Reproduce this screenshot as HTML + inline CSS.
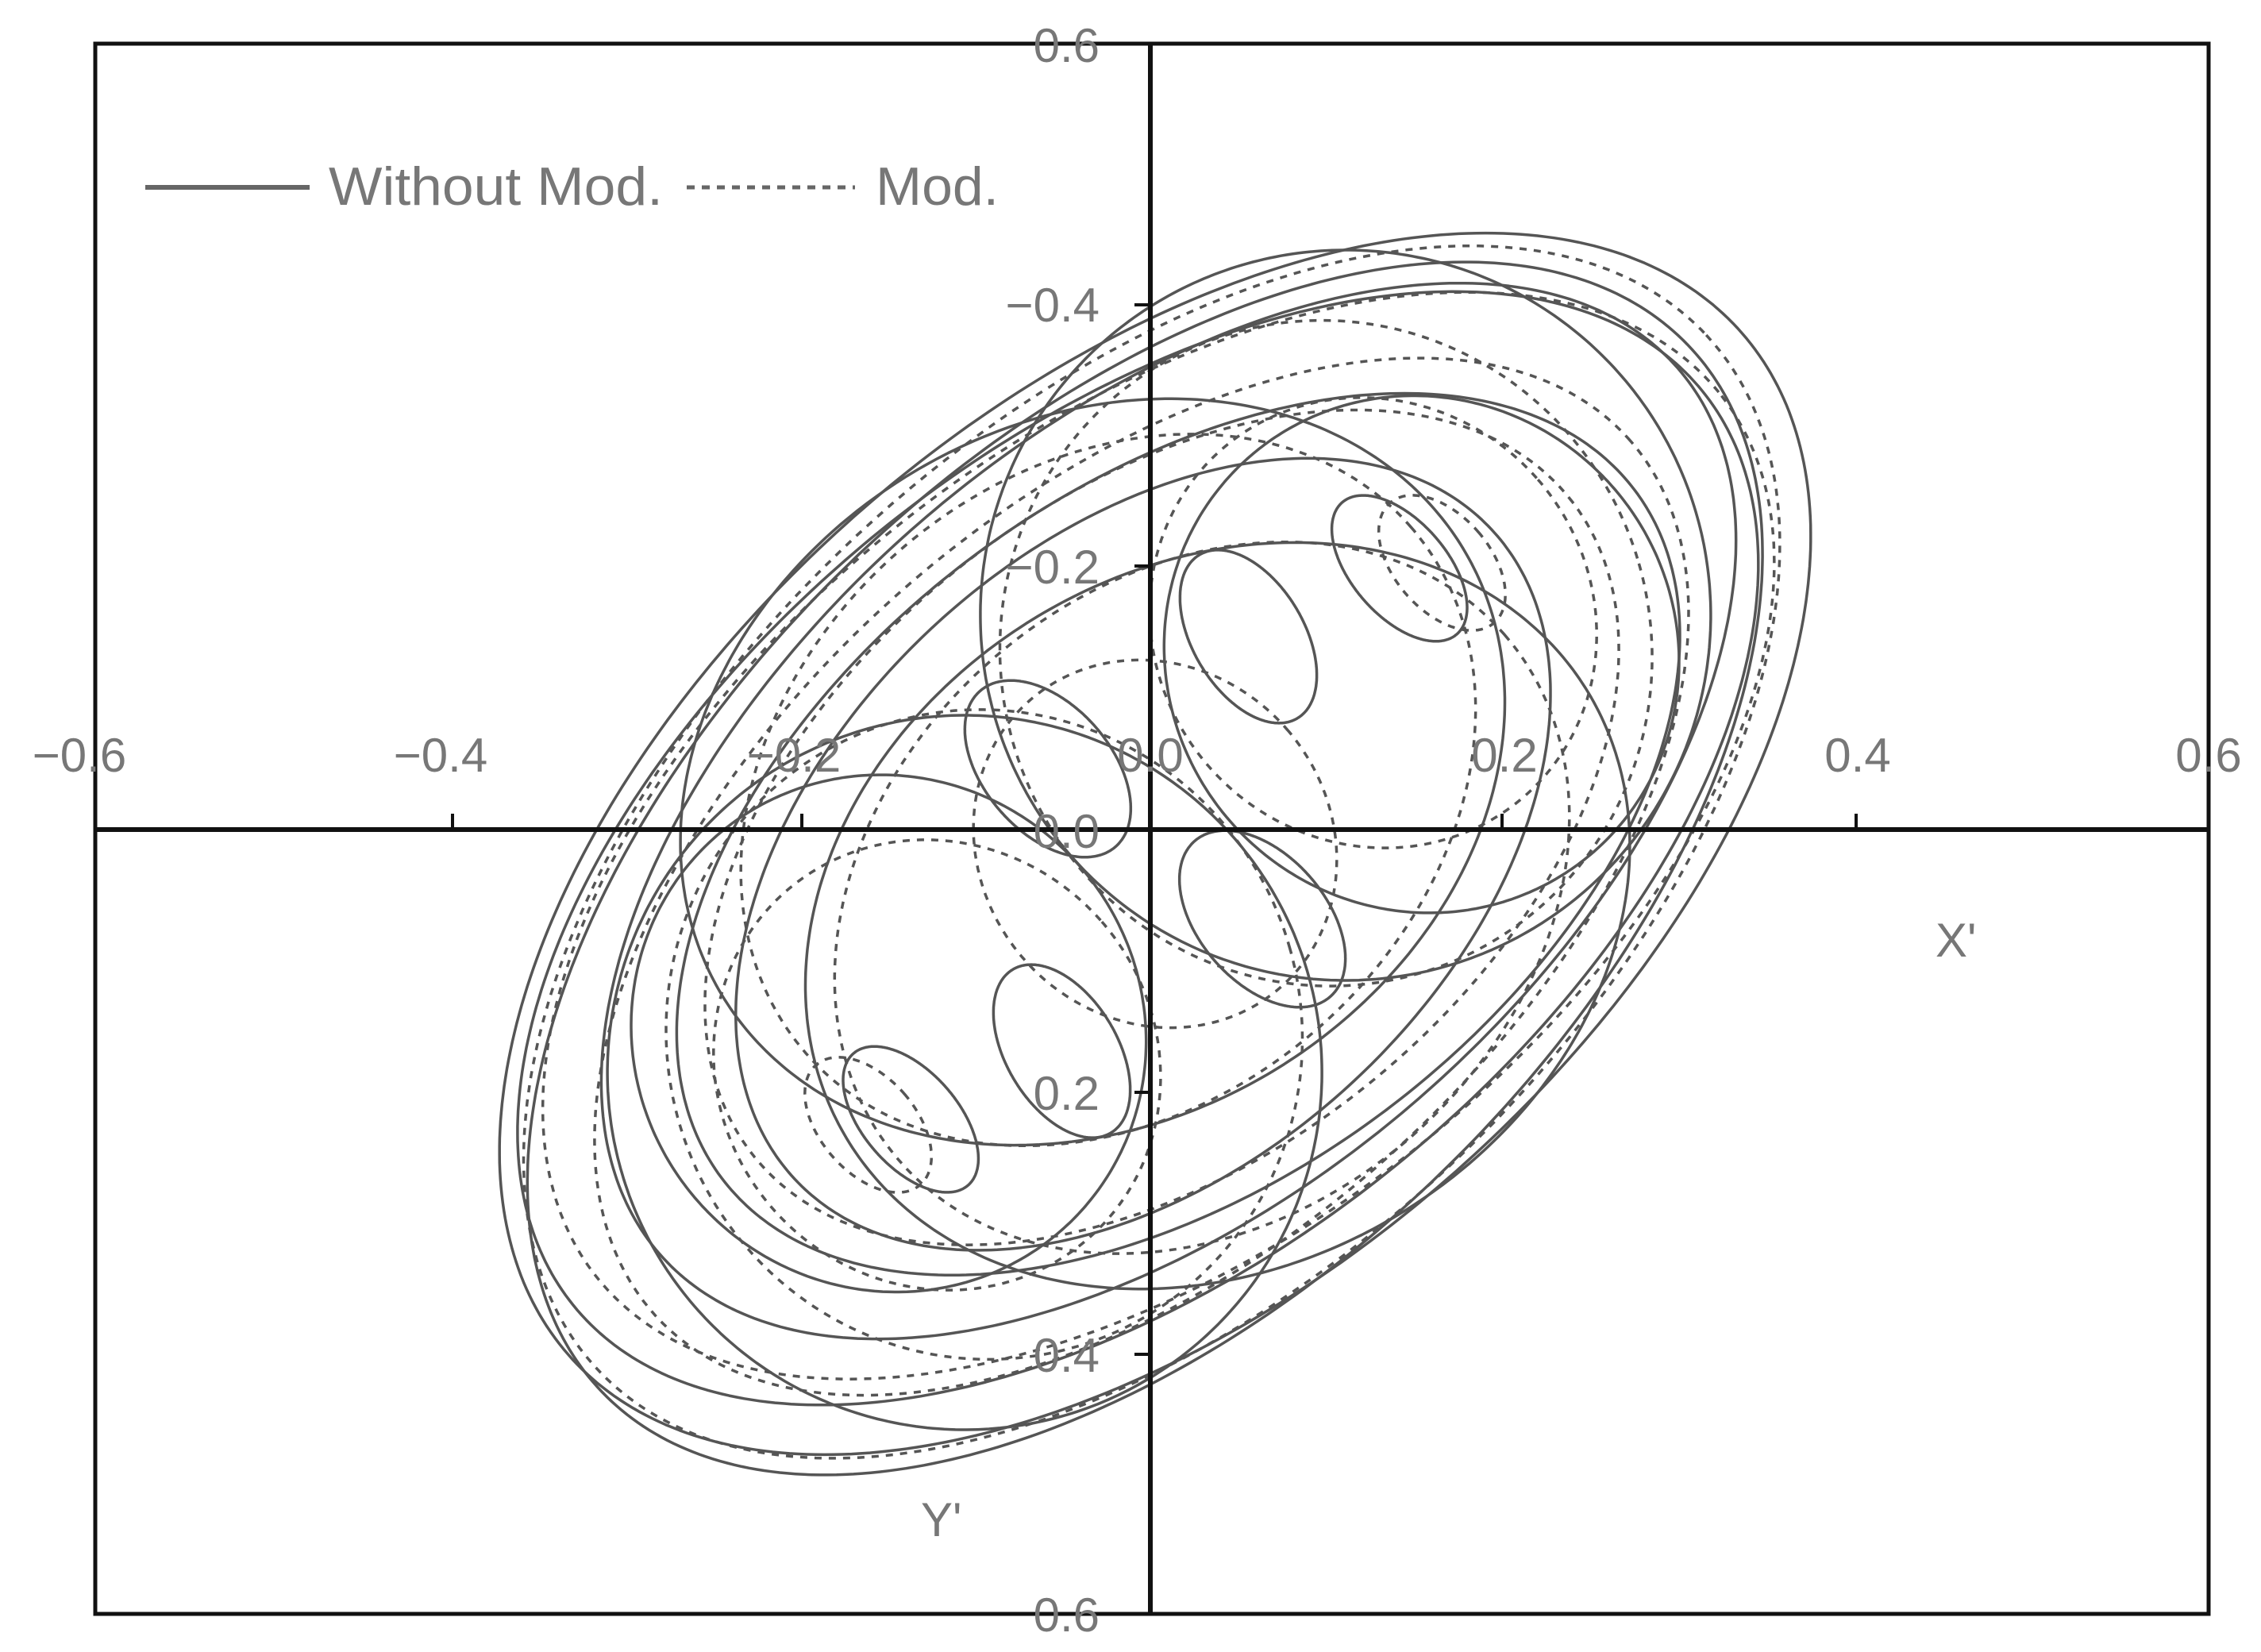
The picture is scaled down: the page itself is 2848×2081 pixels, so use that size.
<!DOCTYPE html>
<html><head><meta charset="utf-8"><style>
html,body{margin:0;padding:0;background:#fff}
svg{display:block}
text{font-family:"Liberation Sans",sans-serif;fill:#777}
</style></head><body>
<svg id="s" width="2848" height="2081" viewBox="0 0 2848 2081" xmlns="http://www.w3.org/2000/svg">
<rect x="0" y="0" width="2848" height="2081" fill="#fff"/>
<g id="curves" fill="none" stroke-linejoin="round"></g>
<rect x="120" y="55" width="2662" height="1978" fill="none" stroke="#111" stroke-width="5"/>
<line x1="1449" y1="55" x2="1449" y2="2033" stroke="#111" stroke-width="6"/>
<line x1="120" y1="1045" x2="2782" y2="1045" stroke="#111" stroke-width="6"/>
<g stroke="#111" stroke-width="4">
<line x1="570" y1="1045" x2="570" y2="1025"/><line x1="1010" y1="1045" x2="1010" y2="1025"/>
<line x1="1892" y1="1045" x2="1892" y2="1025"/><line x1="2338" y1="1045" x2="2338" y2="1025"/>
<line x1="1449" y1="384" x2="1429" y2="384"/><line x1="1449" y1="713" x2="1429" y2="713"/>
<line x1="1449" y1="1376" x2="1429" y2="1376"/><line x1="1449" y1="1706" x2="1429" y2="1706"/>
</g>
<g font-size="60">
<text x="100" y="972" text-anchor="middle">−0.6</text>
<text x="555" y="972" text-anchor="middle">−0.4</text>
<text x="1000" y="972" text-anchor="middle">−0.2</text>
<text x="1449" y="972" text-anchor="middle">0.0</text>
<text x="1895" y="972" text-anchor="middle">0.2</text>
<text x="2340" y="972" text-anchor="middle">0.4</text>
<text x="2782" y="972" text-anchor="middle">0.6</text>
<text x="1385" y="78" text-anchor="end">0.6</text>
<text x="1385" y="405" text-anchor="end">−0.4</text>
<text x="1385" y="735" text-anchor="end">−0.2</text>
<text x="1385" y="1068" text-anchor="end">0.0</text>
<text x="1385" y="1398" text-anchor="end">0.2</text>
<text x="1385" y="1728" text-anchor="end">0.4</text>
<text x="1385" y="2055" text-anchor="end">0.6</text>
<text x="2438" y="1205">X'</text>
<text x="1160" y="1935">Y'</text>
</g>
<line x1="183" y1="236" x2="390" y2="236" stroke="#666" stroke-width="6"/>
<line x1="865" y1="236" x2="1077" y2="236" stroke="#666" stroke-width="5" stroke-dasharray="10,9"/>
<text x="414" y="258" font-size="68" textLength="421" lengthAdjust="spacingAndGlyphs">Without Mod.</text>
<text x="1103" y="258" font-size="68" textLength="155" lengthAdjust="spacingAndGlyphs">Mod.</text>
</svg>
<script>
(function(){
var g=document.getElementById('curves');
var cx=1455,cy=1063,ang=-41*Math.PI/180,ca=Math.cos(ang),sa=Math.sin(ang);
function add(d,dash){
  var p=document.createElementNS('http://www.w3.org/2000/svg','path');
  p.setAttribute('d',d);p.setAttribute('stroke','#555');
  p.setAttribute('stroke-width','3.5');
  if(dash)p.setAttribute('stroke-dasharray','9,9');
  g.appendChild(p);
}
function ell(A,B,ox,oy,rot,dash){
  var d='',N=400,r=(rot||0)*Math.PI/180,cr=Math.cos(r),sr=Math.sin(r);
  for(var i=0;i<=N;i++){
    var t=i/N*2*Math.PI;
    var a=A*Math.cos(t),b=B*Math.sin(t);
    var u=a*cr-b*sr+ox,v=a*sr+b*cr+oy;
    var x=cx+u*ca-v*sa,y=cy+u*sa+v*ca;
    d+=(i?'L':'M')+x.toFixed(1)+' '+y.toFixed(1);
  }
  add(d+'Z',dash);
}
// solid
ell(980,560,0,0,0,false);
ell(950,535,-30,15,-3,false);
ell(915,515,-20,-10,2,false);
ell(850,480,40,-20,0,false);
ell(720,435,30,10,4,false);
ell(600,390,-20,0,-2,false);
ell(460,460,370,-60,20,false);
ell(450,450,-370,60,20,false);
ell(545,440,0,-120,10,false);
ell(545,440,0,120,10,false);
ell(320,330,410,40,0,false);
ell(320,330,-410,-40,0,false);
ell(70,120,260,-120,10,false);
ell(70,120,-260,120,10,false);
ell(60,110,460,-60,0,false);
ell(60,110,-460,60,0,false);
ell(80,130,40,160,0,false);
ell(80,130,-40,-160,0,false);
// dashed
ell(955,545,-10,5,-2,true);
ell(900,510,10,-5,3,true);
ell(825,470,-40,20,-1,true);
ell(660,415,20,-10,2,true);
ell(410,420,320,-40,25,true);
ell(400,410,-320,40,25,true);
ell(275,290,390,-30,0,true);
ell(275,290,-390,30,0,true);
ell(220,240,0,0,0,true);
ell(505,400,0,-90,0,true);
ell(505,400,0,90,0,true);
ell(60,100,505,-30,0,true);
ell(60,100,-505,30,0,true);
})();
</script>
</body></html>
